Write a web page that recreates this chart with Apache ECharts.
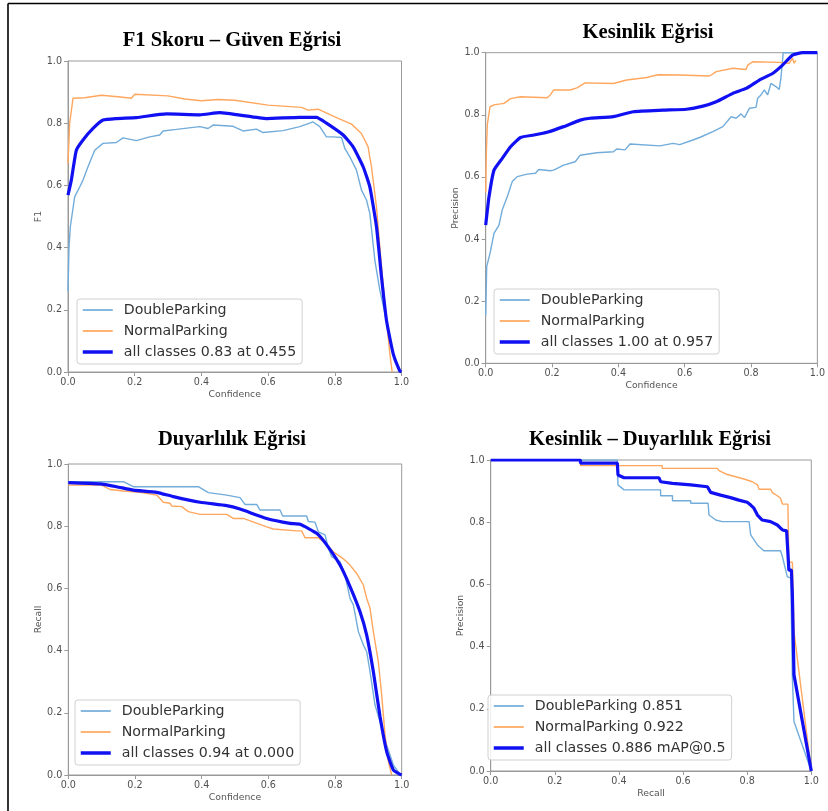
<!DOCTYPE html>
<html><head><meta charset="utf-8">
<script src="https://cdn.jsdelivr.net/npm/echarts@6/dist/echarts.min.js"></script>
<style>html,body{margin:0;padding:0;background:#fff}#c{width:828px;height:811px}</style>
</head><body><div id="c"></div>
<script>
// ---------- titles / labels ----------
const titles = ['F1 Skoru – Güven Eğrisi', 'Kesinlik Eğrisi', 'Duyarlılık Eğrisi', 'Kesinlik – Duyarlılık Eğrisi'];
const xNames = ['Confidence', 'Confidence', 'Confidence', 'Recall'];
const yNames = ['F1', 'Precision', 'Recall', 'Precision'];
const tickValues = [0, 0.2, 0.4, 0.6, 0.8, 1.0];
const legendF1 = ['DoubleParking', 'NormalParking', 'all classes 0.83 at 0.455'];
const legendP = ['DoubleParking', 'NormalParking', 'all classes 1.00 at 0.957'];
const legendR = ['DoubleParking', 'NormalParking', 'all classes 0.94 at 0.000'];
const legendPR = ['DoubleParking 0.851', 'NormalParking 0.922', 'all classes 0.886 mAP@0.5'];

// ---------- F1 - confidence ----------
const f1Double = [[0,0.26],[0.003,0.40],[0.007,0.467],[0.02,0.563],[0.035,0.595],[0.045,0.617],[0.06,0.66],[0.08,0.713],[0.105,0.735],[0.145,0.738],[0.165,0.753],[0.205,0.744],[0.245,0.756],[0.275,0.762],[0.285,0.775],[0.325,0.78],[0.395,0.789],[0.42,0.783],[0.435,0.794],[0.495,0.79],[0.525,0.775],[0.565,0.781],[0.585,0.77],[0.645,0.776],[0.695,0.789],[0.735,0.804],[0.755,0.789],[0.775,0.756],[0.795,0.756],[0.82,0.754],[0.83,0.719],[0.845,0.692],[0.865,0.649],[0.88,0.585],[0.895,0.553],[0.905,0.51],[0.92,0.36],[0.935,0.263],[0.955,0.166],[0.975,0.059],[0.995,0.003],[1.0,0]];
const f1Normal = [[0,0.67],[0.005,0.80],[0.015,0.88],[0.05,0.882],[0.1,0.89],[0.15,0.885],[0.19,0.88],[0.2,0.893],[0.3,0.888],[0.35,0.878],[0.4,0.872],[0.45,0.876],[0.5,0.874],[0.6,0.858],[0.7,0.851],[0.72,0.842],[0.75,0.845],[0.8,0.82],[0.85,0.797],[0.88,0.767],[0.9,0.724],[0.905,0.69],[0.91,0.66],[0.925,0.53],[0.94,0.34],[0.955,0.166],[0.965,0.06],[0.972,0]];
const f1All = [[0,0.569],[0.01,0.617],[0.025,0.713],[0.045,0.746],[0.075,0.783],[0.105,0.81],[0.145,0.815],[0.205,0.818],[0.295,0.83],[0.395,0.827],[0.455,0.834],[0.515,0.826],[0.595,0.815],[0.695,0.819],[0.745,0.819],[0.775,0.8],[0.825,0.762],[0.855,0.724],[0.885,0.66],[0.905,0.595],[0.925,0.467],[0.94,0.306],[0.955,0.166],[0.975,0.059],[0.995,0.003],[1,0]];

// ---------- Precision - confidence ----------
const pDouble = [[0,0.155],[0.003,0.311],[0.013,0.354],[0.025,0.418],[0.04,0.445],[0.05,0.494],[0.065,0.536],[0.08,0.585],[0.095,0.601],[0.125,0.609],[0.15,0.612],[0.16,0.624],[0.195,0.62],[0.205,0.622],[0.235,0.638],[0.27,0.649],[0.285,0.67],[0.335,0.678],[0.385,0.681],[0.395,0.69],[0.42,0.687],[0.435,0.706],[0.525,0.70],[0.565,0.708],[0.585,0.704],[0.625,0.719],[0.645,0.727],[0.685,0.746],[0.715,0.762],[0.74,0.794],[0.755,0.789],[0.77,0.803],[0.78,0.791],[0.795,0.821],[0.815,0.824],[0.82,0.853],[0.83,0.864],[0.84,0.88],[0.85,0.864],[0.86,0.901],[0.875,0.891],[0.885,0.882],[0.89,0.917],[0.895,0.917],[0.897,1.0],[1,1]];
const pNormal = [[0,0.55],[0.002,0.68],[0.005,0.77],[0.013,0.826],[0.025,0.832],[0.055,0.837],[0.075,0.852],[0.105,0.858],[0.185,0.855],[0.195,0.864],[0.205,0.88],[0.255,0.88],[0.275,0.887],[0.3,0.903],[0.385,0.901],[0.425,0.912],[0.485,0.92],[0.52,0.929],[0.585,0.928],[0.675,0.925],[0.695,0.939],[0.745,0.95],[0.785,0.946],[0.79,0.96],[0.805,0.971],[0.885,0.969],[0.915,0.966],[0.925,0.982],[0.93,0.966],[0.935,0.975]];
const pAll = [[0,0.445],[0.01,0.536],[0.025,0.622],[0.05,0.66],[0.075,0.697],[0.105,0.727],[0.145,0.735],[0.185,0.744],[0.235,0.762],[0.285,0.783],[0.315,0.789],[0.385,0.794],[0.445,0.81],[0.535,0.815],[0.605,0.818],[0.655,0.828],[0.695,0.842],[0.745,0.869],[0.785,0.885],[0.825,0.912],[0.865,0.933],[0.895,0.96],[0.925,0.992],[0.955,1.0],[1,1]];

// ---------- Recall - confidence ----------
const rDouble = [[0,0.943],[0.165,0.943],[0.195,0.927],[0.39,0.927],[0.42,0.908],[0.475,0.90],[0.515,0.892],[0.53,0.87],[0.565,0.87],[0.575,0.852],[0.635,0.852],[0.643,0.833],[0.715,0.833],[0.72,0.815],[0.74,0.813],[0.75,0.782],[0.77,0.772],[0.78,0.729],[0.79,0.702],[0.815,0.686],[0.83,0.643],[0.845,0.568],[0.855,0.547],[0.87,0.461],[0.885,0.418],[0.895,0.397],[0.905,0.332],[0.92,0.225],[0.935,0.171],[0.955,0.096],[0.975,0.032],[0.995,0.002],[1,0]];
const rNormal = [[0,0.932],[0.1,0.932],[0.125,0.918],[0.165,0.913],[0.215,0.909],[0.265,0.90],[0.285,0.877],[0.305,0.874],[0.31,0.865],[0.34,0.863],[0.36,0.847],[0.395,0.838],[0.475,0.838],[0.495,0.825],[0.525,0.825],[0.595,0.798],[0.615,0.791],[0.685,0.785],[0.7,0.785],[0.71,0.763],[0.75,0.763],[0.77,0.745],[0.795,0.718],[0.825,0.695],[0.845,0.675],[0.865,0.648],[0.885,0.611],[0.895,0.568],[0.905,0.536],[0.915,0.461],[0.93,0.364],[0.94,0.257],[0.95,0.129],[0.96,0.043],[0.97,0]];
const rAll = [[0,0.94],[0.095,0.936],[0.145,0.927],[0.195,0.916],[0.265,0.909],[0.315,0.895],[0.395,0.877],[0.475,0.866],[0.515,0.855],[0.595,0.825],[0.665,0.809],[0.695,0.806],[0.745,0.777],[0.775,0.74],[0.815,0.675],[0.845,0.606],[0.875,0.525],[0.895,0.45],[0.915,0.332],[0.935,0.188],[0.955,0.075],[0.975,0.016],[0.995,0.002],[1,0]];

// ---------- Precision - recall ----------
const prDouble = [[0,1],[0.395,1],[0.397,0.92],[0.416,0.904],[0.53,0.904],[0.53,0.885],[0.567,0.885],[0.567,0.869],[0.624,0.869],[0.624,0.861],[0.678,0.861],[0.681,0.823],[0.702,0.807],[0.722,0.802],[0.806,0.802],[0.811,0.759],[0.832,0.727],[0.852,0.708],[0.904,0.708],[0.91,0.689],[0.925,0.625],[0.936,0.62],[0.941,0.3],[0.946,0.159],[1,0]];
const prNormal = [[0,1],[0.28,1],[0.28,0.982],[0.535,0.982],[0.535,0.973],[0.707,0.973],[0.712,0.966],[0.733,0.955],[0.764,0.946],[0.79,0.939],[0.816,0.93],[0.832,0.92],[0.837,0.906],[0.873,0.906],[0.878,0.896],[0.894,0.885],[0.904,0.877],[0.91,0.858],[0.927,0.858],[0.93,0.671],[0.941,0.671],[0.946,0.448],[1,0]];
const prAll = [[0,1],[0.28,1],[0.28,0.99],[0.395,0.99],[0.397,0.952],[0.416,0.943],[0.525,0.943],[0.53,0.93],[0.567,0.925],[0.624,0.92],[0.676,0.914],[0.686,0.896],[0.717,0.887],[0.748,0.879],[0.774,0.871],[0.8,0.864],[0.811,0.855],[0.821,0.845],[0.832,0.823],[0.847,0.807],[0.873,0.802],[0.894,0.791],[0.91,0.775],[0.923,0.772],[0.925,0.737],[0.93,0.646],[0.938,0.646],[0.941,0.566],[0.946,0.309],[1,0]];

// ---------- styling ----------
const C_DOUBLE = '#72acda';
const C_NORMAL = '#ffa75e';
const C_ALL = '#1010f2';
const AX = '#9a9a9a';

const grids = [
  {left: 68, top: 61, width: 333.5, height: 311},
  {left: 485.7, top: 52.7, width: 333.3, height: 310.6},
  {left: 68.3, top: 464, width: 333.4, height: 311},
  {left: 490.7, top: 460, width: 320.6, height: 311}
];
const titlePos = [[232, 41], [648, 33], [232, 440], [650, 440]];
const legendPos = [[77, 299], [494, 289], [75, 700], [488, 695]];
const legendNames = [legendF1, legendP, legendR, legendPR];
const panelData = [[f1Double, f1Normal, f1All], [pDouble, pNormal, pAll], [rDouble, rNormal, rAll], [prDouble, prNormal, prAll]];

function axisCommon(i, isX) {
  return {
    type: 'value', gridIndex: i, min: 0, max: 1, interval: 0.2,
    name: isX ? xNames[i] : yNames[i], nameLocation: 'middle',
    nameGap: isX ? 18 : 25,
    nameTextStyle: {fontFamily: 'DejaVu Sans', fontSize: 9.3, color: '#555'},
    axisLine: {show: true, lineStyle: {color: AX, width: 1}},
    axisTick: {show: true, length: 4, lineStyle: {color: AX}},
    axisLabel: {fontFamily: 'DejaVu Sans', fontSize: 9.6, color: '#505050', margin: isX ? 5 : 6,
      formatter: v => v.toFixed(1)},
    splitLine: {show: false}
  };
}

const series = [];
const legends = [];
const colors = [C_DOUBLE, C_NORMAL, C_ALL];
const widths = [1.4, 1.4, 3.2];
for (let i = 0; i < 4; i++) {
  for (let k = 0; k < 3; k++) {
    series.push({
      type: 'line', name: legendNames[i][k], xAxisIndex: i, yAxisIndex: i,
      data: panelData[i][k], symbol: 'none', showSymbol: false,
      smooth: (k === 2 && i < 3) ? 0.15 : false,
      lineStyle: {color: colors[k], width: widths[k]}, itemStyle: {color: colors[k]},
      z: k === 2 ? 3 : 2, animation: false
    });
  }
  legends.push({
    orient: 'vertical', left: legendPos[i][0], top: legendPos[i][1],
    padding: [4, 6, 5, 4], itemGap: 7, itemWidth: 30, itemHeight: 14,
    borderColor: '#d0d0d0', borderWidth: 1, borderRadius: 3,
    backgroundColor: 'rgba(255,255,255,0.85)',
    selectedMode: false,
    itemStyle: {opacity: 0},
    textStyle: {fontFamily: 'DejaVu Sans', fontSize: 14.2, color: '#333', padding: [0, 0, 0, 6]},
    data: legendNames[i].map((n, k) => ({name: n, lineStyle: {width: widths[k] + 0.3, color: colors[k]}}))
  });
}

const graphics = [
  {type: 'line', shape: {x1: 8, y1: 3.5, x2: 828, y2: 3.5}, style: {stroke: '#000', lineWidth: 1.6}},
  {type: 'line', shape: {x1: 8, y1: 3.5, x2: 8, y2: 811}, style: {stroke: '#000', lineWidth: 1.6}}
];
titles.forEach((t, i) => graphics.push({
  type: 'text', x: titlePos[i][0], y: titlePos[i][1],
  style: {text: t, fontFamily: 'Liberation Serif', fontWeight: 'bold', fontSize: 20.6, fill: '#000', align: 'center', verticalAlign: 'middle'}
}));

const chart = echarts.init(document.getElementById('c'), null, {renderer: 'canvas'});
chart.setOption({
  animation: false,
  backgroundColor: '#fff',
  grid: grids.map(g => Object.assign({show: true, borderColor: AX, borderWidth: 1, backgroundColor: 'transparent'}, g)),
  xAxis: grids.map((g, i) => axisCommon(i, true)),
  yAxis: grids.map((g, i) => axisCommon(i, false)),
  legend: legends,
  series: series,
  graphic: graphics
});
</script></body></html>
